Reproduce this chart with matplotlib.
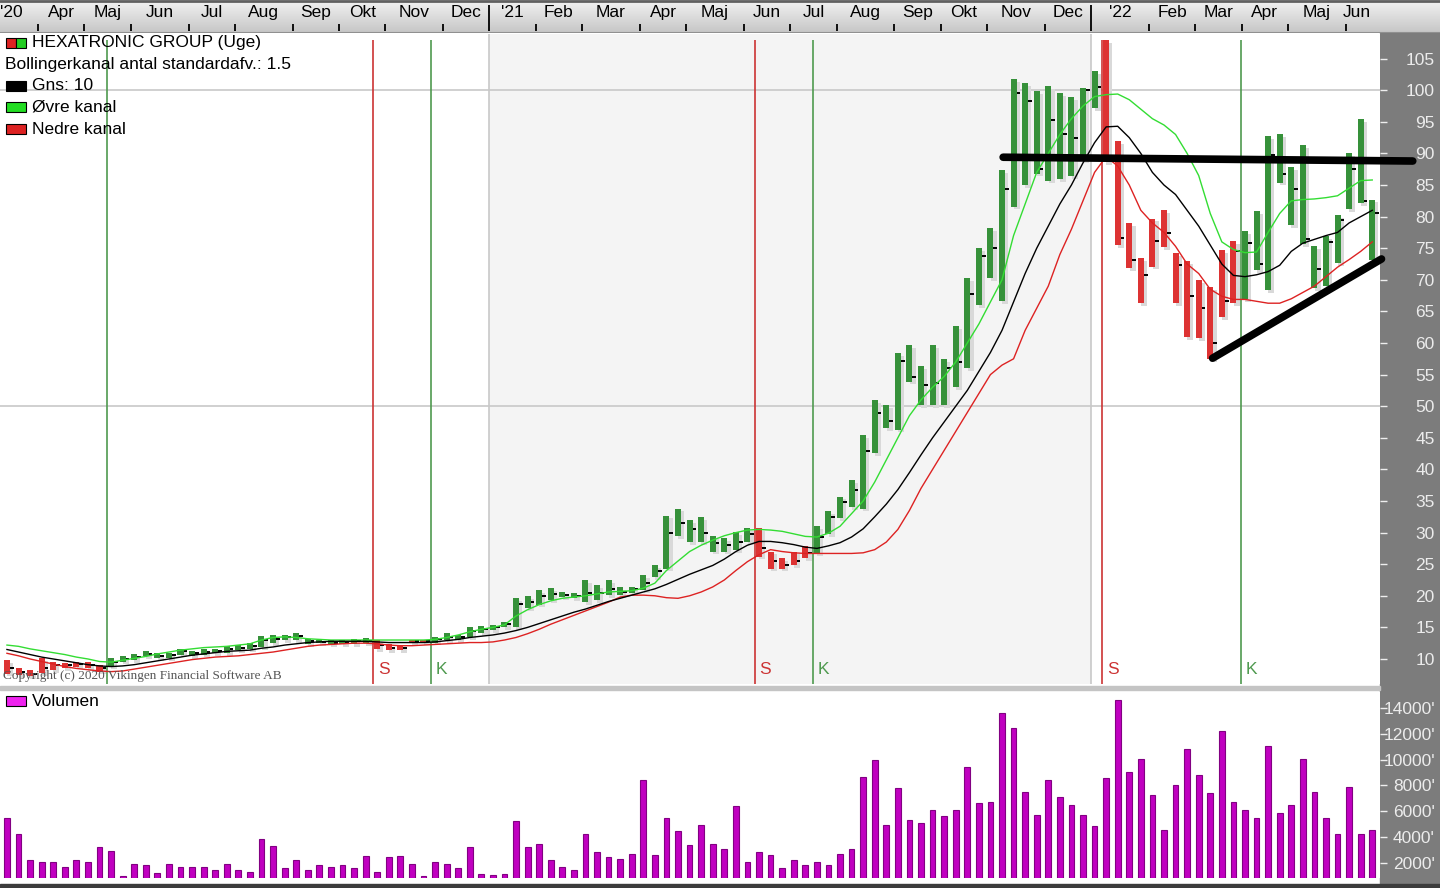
import numpy as np
import pandas as pd
import matplotlib
matplotlib.use("Agg")
import matplotlib.pyplot as plt
from matplotlib.patches import Rectangle

plt.rcParams['font.family'] = ['Liberation Sans', 'DejaVu Sans']

# weekly data, first week starts Monday 16 March 2020
first_week = "2020-03-16"

high = [9.8, 8.5, 8.3, 10.1, 9.6, 9.3, 9.6, 9.6, 9.0, 10.1,
        10.4, 10.8, 11.2, 10.9, 11.0, 11.6, 11.2, 11.5, 11.6, 12.0,
        12.2, 12.5, 13.6, 13.8, 13.8, 14.1, 13.1, 13.0, 13.0, 13.0,
        13.2, 13.3, 13.0, 12.4, 12.2, 13.0, 13.0, 13.5, 14.1, 13.8,
        15.0, 15.2, 15.4, 15.8, 19.6, 19.9, 20.9, 21.2, 20.6, 20.4,
        22.5, 21.7, 22.5, 21.4, 21.4, 23.3, 24.9, 32.7, 33.8, 32.0,
        32.5, 29.4, 29.1, 30.1, 30.7, 30.7, 27.0, 25.9, 27.0, 27.8,
        31.0, 33.4, 35.7, 38.3, 45.4, 51.0, 50.2, 58.4, 59.7, 56.3,
        59.7, 57.4, 62.7, 70.3, 75.0, 78.2, 87.4, 101.7, 101.2, 99.9,
        100.6, 99.6, 98.9, 100.4, 103.0, 108.0, 92.0, 79.0, 73.5, 79.7,
        81.0, 74.2, 72.9, 70.0, 68.9, 74.7, 76.1, 77.7, 80.9, 92.8,
        93.0, 87.9, 91.3, 75.3, 76.9, 80.3, 90.1, 95.4, 82.7]
low = [7.7, 7.5, 7.3, 7.8, 8.3, 8.6, 8.8, 8.6, 8.0, 8.9,
       9.6, 9.8, 10.4, 10.1, 10.1, 10.7, 10.4, 10.7, 10.9, 11.0,
       11.4, 11.6, 11.9, 12.5, 13.0, 13.0, 12.4, 12.5, 12.3, 12.3,
       12.4, 12.5, 11.6, 11.4, 11.4, 12.6, 12.6, 12.6, 13.0, 13.0,
       13.5, 14.1, 14.6, 15.1, 15.1, 18.0, 18.6, 19.3, 19.8, 19.6,
       19.0, 19.3, 20.1, 20.1, 20.4, 20.9, 23.0, 24.3, 29.4, 28.5,
       28.5, 27.0, 27.0, 27.2, 28.5, 26.2, 24.3, 24.3, 24.9, 25.9,
       26.7, 29.7, 32.3, 34.1, 33.8, 42.6, 46.5, 46.3, 53.9, 50.2,
       50.2, 50.2, 53.0, 56.0, 66.0, 70.3, 66.6, 81.6, 85.0, 86.8,
       85.7, 86.0, 86.4, 89.0, 97.2, 88.6, 75.5, 71.9, 66.3, 72.1,
       75.2, 66.3, 61.0, 60.8, 57.5, 64.1, 66.3, 66.9, 71.6, 68.4,
       85.4, 78.7, 75.6, 68.7, 69.0, 72.7, 81.2, 82.2, 73.2]
close = [8.5, 7.9, 7.6, 8.5, 9.0, 9.0, 9.2, 9.0, 8.5, 9.6,
         10.0, 10.3, 10.8, 10.5, 10.6, 11.2, 10.9, 11.1, 11.3, 11.5,
         11.8, 12.0, 13.0, 13.2, 13.5, 13.6, 12.8, 12.7, 12.6, 12.6,
         12.8, 12.9, 12.2, 11.8, 11.7, 12.8, 12.8, 13.1, 13.5, 13.4,
         14.5, 14.8, 15.0, 15.5, 18.7, 19.0, 20.0, 20.3, 20.2, 20.0,
         20.5, 20.4, 21.0, 20.6, 21.0, 22.0, 24.0, 30.0, 31.5, 30.5,
         30.0, 28.3, 28.0, 28.5, 29.8, 27.5, 25.5, 24.8, 25.5, 26.8,
         29.3, 32.5, 34.8, 36.8, 42.9, 48.9, 47.7, 57.1, 54.7, 53.4,
         53.6, 56.0, 57.0, 67.8, 73.7, 75.0, 84.3, 99.6, 98.3, 87.5,
         95.3, 93.0, 92.5, 100.0, 100.5, 89.5, 76.6, 73.2, 70.7, 76.2,
         77.4, 72.3, 67.5, 65.5, 60.0, 66.6, 74.5, 75.8, 72.5, 89.7,
         86.7, 84.4, 76.5, 71.7, 76.0, 79.5, 87.5, 82.5, 80.5]

# Bollinger channel (10 weeks, 1.5 std)
mid = [11.5, 11.1, 10.7, 10.3, 10.0, 9.7, 9.4, 9.1, 8.9, 8.8,
       8.9, 9.1, 9.4, 9.7, 10.0, 10.3, 10.6, 10.8, 11.0, 11.2,
       11.3, 11.4, 11.7, 11.9, 12.2, 12.4, 12.6, 12.7, 12.8, 12.8,
       12.8, 12.8, 12.7, 12.6, 12.6, 12.6, 12.6, 12.7, 12.9, 13.1,
       13.4, 13.6, 13.8, 14.1, 14.5, 15.0, 15.6, 16.2, 16.8, 17.4,
       17.9, 18.5, 19.1, 19.6, 20.1, 20.6, 21.1, 21.8, 22.6, 23.4,
       24.1, 24.8, 25.8, 27.0, 28.0, 28.6, 28.6, 28.4, 28.1, 27.7,
       27.5, 27.9, 28.4, 29.3, 30.6, 32.5, 34.5, 36.8, 39.5, 42.3,
       45.0, 47.5, 50.0, 52.5, 55.5, 58.5, 62.0, 66.5, 71.0, 75.0,
       78.5, 82.0, 85.0, 88.5, 91.7, 94.2, 94.3, 92.5, 90.0, 87.0,
       85.0, 83.5, 81.0, 78.5, 75.5, 72.5, 70.7, 70.5, 70.8, 71.3,
       72.3, 74.5, 75.8, 76.4, 77.0, 77.5, 79.0, 80.0, 81.0]
upper = [12.2, 12.0, 11.6, 11.3, 11.0, 10.7, 10.3, 10.0, 9.6, 9.5,
         9.8, 10.1, 10.4, 10.8, 11.1, 11.4, 11.6, 11.8, 11.9, 12.0,
         12.2, 12.4, 13.0, 13.4, 13.5, 13.4, 13.2, 13.1, 13.0, 13.0,
         13.0, 13.0, 13.0, 13.0, 13.0, 13.0, 13.0, 13.1, 13.4, 13.8,
         14.3, 14.7, 15.0, 15.4, 16.8, 17.8, 18.6, 19.2, 19.6, 19.8,
         20.0, 20.3, 20.6, 20.7, 20.8, 21.2, 22.0, 24.0, 25.5, 27.0,
         28.0, 28.8, 29.5, 30.0, 30.4, 30.5, 30.4, 30.2, 29.8, 29.4,
         29.3, 29.9, 31.0, 33.0, 35.0, 38.0, 41.5, 45.0, 48.5, 51.0,
         53.0, 54.7, 57.0, 60.0, 63.0, 66.5, 70.0, 77.0, 82.0, 87.0,
         90.0, 93.0, 95.5, 97.5, 99.0, 99.3, 99.4, 98.5, 97.0, 95.5,
         94.5, 93.0, 90.0, 86.5, 80.5, 76.0, 74.8, 74.3, 74.4, 77.5,
         80.5, 82.5, 82.7, 82.8, 83.0, 83.3, 84.5, 85.7, 85.8]
lower = [10.9, 10.5, 10.0, 9.6, 9.2, 8.8, 8.5, 8.3, 8.1, 8.0,
         8.1, 8.4, 8.7, 9.0, 9.3, 9.6, 9.9, 10.1, 10.3, 10.4,
         10.5, 10.7, 10.9, 11.1, 11.4, 11.7, 12.0, 12.2, 12.3, 12.4,
         12.5, 12.5, 12.4, 12.2, 12.1, 12.1, 12.2, 12.3, 12.4, 12.5,
         12.6, 12.6, 12.7, 13.0, 13.4, 14.0, 14.7, 15.5, 16.2, 16.9,
         17.6, 18.3, 19.0, 19.8, 20.1, 20.1, 20.0, 19.7, 19.6, 20.0,
         20.6, 21.4, 22.5, 24.0, 25.4, 26.5, 27.3, 27.0, 26.8, 26.7,
         26.7, 26.7, 26.7, 26.7, 26.8, 27.3, 28.5, 30.5, 33.5, 37.0,
         40.0, 43.0, 46.0, 49.0, 52.0, 55.0, 56.5, 57.5, 62.0, 65.5,
         69.0, 74.0, 78.0, 82.5, 87.0, 89.5, 88.0, 85.0, 81.0, 79.0,
         77.5, 75.3, 72.5, 71.0, 68.5, 67.4, 66.9, 66.9, 66.6, 66.3,
         66.3, 67.0, 68.0, 69.0, 70.5, 72.0, 73.2, 74.5, 76.0]

# volume in thousands
volume = [5470, 4200, 2200, 2080, 2080, 1700, 2200, 2080, 3230, 2920,
          980, 1900, 1820, 1180, 1900, 1700, 1700, 1700, 1440, 1900,
          1440, 1310, 3840, 3300, 1570, 2200, 1440, 1820, 1700, 1820,
          1570, 2540, 1310, 2460, 2540, 1950, 980, 2080, 1950, 1570,
          3230, 1130, 1030, 1130, 5220, 3230, 3480, 2200, 1690, 1440,
          4250, 2840, 2460, 2330, 2720, 8410, 2590, 5470, 4450, 3350,
          4960, 3480, 3100, 6370, 2080, 2840, 2590, 1570, 2200, 1820,
          2080, 1820, 2720, 3100, 8660, 9940, 4960, 7770, 5340, 5090,
          6110, 5600, 6110, 9400, 6620, 6750, 13570, 12420, 7510, 5730,
          8380, 7130, 6490, 5730, 4830, 8540, 14590, 9050, 10040, 7260,
          4580, 8000, 10810, 8770, 7390, 12190, 6750, 6110, 5470, 11060,
          5860, 6490, 10040, 7510, 5470, 4200, 7870, 4200, 4580]

buy_weeks = [9, 37, 70, 107]     # K
sell_weeks = [32, 65, 95]        # S
resistance_x = [86.1, 121.5]
resistance_y = [89.4, 88.8]
support_x = [104.2, 118.8]
support_y = [57.6, 73.3]

price_ticks = list(range(10, 106, 5))
vol_ticks = [2000, 4000, 6000, 8000, 10000, 12000, 14000]
month_names = ["Jan", "Feb", "Mar", "Apr", "Maj", "Jun", "Jul",
               "Aug", "Sep", "Okt", "Nov", "Dec"]

W, H = 1440, 888
GREEN = "#36913a"
RED = "#dd3333"
x = np.arange(len(close))
xmin, xmax = -0.6, 118.67
FS = 12.5


def fx(px):
    return px / W


def fy(py):
    return 1 - py / H


fig = plt.figure(figsize=(W / 100, H / 100), dpi=100)
fig.patch.set_facecolor("white")

# right gray scale panel, separators
fig.add_artist(Rectangle((fx(1380), 0), fx(60), fy(33), transform=fig.transFigure,
                         color="#7c7c7c", zorder=-5))
fig.add_artist(Rectangle((0, fy(690)), fx(1380), 3.5 / H, transform=fig.transFigure,
                         color="#c4c4c4", zorder=-5))
fig.add_artist(Rectangle((0, 0), 1, 4 / H, transform=fig.transFigure,
                         color="#3c3c3c", zorder=5))

# ---------- price panel ----------
ax = fig.add_axes([0, fy(684), fx(1380), (684 - 34) / H])
ax.set_xlim(xmin, xmax)
ax.set_ylim(6.04, 108.9)
ax.set_facecolor("white")
for s in ax.spines.values():
    s.set_visible(False)

kk = np.arange(-8, 128)
weeks = pd.Timestamp(first_week) + pd.to_timedelta(7 * kk, unit="D")
new_month = [j for j in range(1, len(weeks)) if weeks[j].month != weeks[j - 1].month]
month_pos = kk[new_month] - 0.3
year_pos = [kk[j] - 0.3 for j in new_month if weeks[j].month == 1]

# 2021 shaded
ax.axvspan(year_pos[0], year_pos[1], color="#f4f4f4", zorder=0, lw=0)
for yp in year_pos:
    if yp < xmax:
        ax.axvline(yp, color="#c8c8c8", lw=1.2, zorder=1)
for g in [50, 100]:
    ax.axhline(g, color="#c8c8c8", lw=1.2, zorder=1)

# signals
for b in buy_weeks:
    ax.vlines(b - 0.35, 6.04, 107.9, color="#4f9a4f", lw=1.2, zorder=2)
    if b != buy_weeks[0]:
        ax.text(b + 0.05, 8.4, "K", color="#4f9a4f", fontsize=FS, va="center", zorder=6)
for s_ in sell_weeks:
    ax.vlines(s_ - 0.35, 6.04, 107.9, color="#cc3333", lw=1.2, zorder=2)
    ax.text(s_ + 0.05, 8.4, "S", color="#cc3333", fontsize=FS, va="center", zorder=6)

# bar colours follow signal state
colors = []
long_pos = False
for i in x:
    if i in buy_weeks:
        long_pos = True
    if i in sell_weeks:
        long_pos = False
    colors.append(GREEN if long_pos else RED)

hi = np.array(high)
lo = np.array(low)
ax.bar(x + 0.28, hi - lo, bottom=lo - 0.45, width=0.52, color="#d9d9d9", zorder=3, lw=0)
ax.bar(x, hi - lo, bottom=lo, width=0.52, color=colors, zorder=4, lw=0)
ax.hlines(close, x + 0.26, x + 0.58, color="black", lw=1.4, zorder=4)

ax.plot(x, upper, color="#33dd33", lw=1.0, zorder=5)
ax.plot(x, lower, color="#dd2222", lw=1.0, zorder=5)
ax.plot(x, mid, color="black", lw=1.0, zorder=5)

ax.plot(resistance_x, resistance_y, color="black", lw=5.5, solid_capstyle="round",
        zorder=7, clip_on=False)
ax.plot(support_x, support_y, color="black", lw=5.5, solid_capstyle="round",
        zorder=7, clip_on=False)

ax.set_xticks([])
ax.yaxis.tick_right()
ax.set_yticks(price_ticks)
ax.set_yticklabels([str(t) for t in price_ticks])
ax.tick_params(axis="y", colors="#eeeeee", length=5, width=1, pad=34.5,
               labelsize=FS, labelcolor="#ececec")
for lab in ax.get_yticklabels():
    lab.set_horizontalalignment("right")

ax.text(0.002, 0.008, "Copyright (c) 2020 Vikingen Financial Software AB",
        transform=ax.transAxes, fontsize=9.5, color="#555555",
        family=["Liberation Serif", "DejaVu Serif"], zorder=8)

# ---------- volume panel ----------
axv = fig.add_axes([0, fy(878), fx(1380), (878 - 692) / H])
axv.set_xlim(xmin, xmax)
axv.set_ylim(828, 15229)
for s in axv.spines.values():
    s.set_visible(False)
axv.bar(x, volume, width=0.5, color="#c000c0", edgecolor="#820082", lw=0.8)
axv.set_xticks([])
axv.yaxis.tick_right()
axv.set_yticks(vol_ticks)
axv.set_yticklabels([f"{v}'" for v in vol_ticks])
axv.tick_params(axis="y", colors="#eeeeee", length=5, width=1, pad=34.5,
                labelsize=FS, labelcolor="#ececec")
for lab in axv.get_yticklabels():
    lab.set_horizontalalignment("right")

# ---------- header with months ----------
axh = fig.add_axes([0, fy(33), 1, 33 / H])
units_per_px = (xmax - xmin) / 1380
hx1 = xmin + W * units_per_px
axh.set_xlim(xmin, hx1)
axh.set_ylim(0, 1)
grad = np.linspace(0, 1, 50).reshape(-1, 1)
axh.imshow(grad, extent=[xmin, hx1, 0, 1], aspect="auto",
           cmap=matplotlib.colors.LinearSegmentedColormap.from_list("g", ["#f2f2f2", "#c6c6c6"]),
           origin="upper", zorder=0)
axh.axhline(0.97, color="#606060", lw=2)
axh.axhline(0.0, color="#909090", lw=1.5)
axh.set_xticks([])
axh.set_yticks([])
for s in axh.spines.values():
    s.set_visible(False)

last_bar = len(close) - 1
for j in range(len(new_month) - 1):
    p0, p1 = month_pos[j], month_pos[j + 1]
    m = weeks[new_month[j]]
    if xmin <= p0 <= last_bar:
        tall = m.month == 1
        axh.vlines(p0, 0.06, 0.85 if tall else 0.27, color="black", lw=1.3)
    if p1 < xmin or p0 > last_bar:
        continue
    if p0 < xmin:
        # first, partly visible month shows the year at the left edge
        axh.text(xmin + 0.02, 0.62, "'" + str(m.year)[2:], ha="left", va="center", fontsize=FS)
        continue
    c = (p0 + min(p1, last_bar - 0.3)) / 2
    lab = "'" + str(m.year)[2:] if m.month == 1 else month_names[m.month - 1]
    axh.text(c, 0.62, lab, ha="center", va="center", fontsize=FS)

# ---------- legend texts ----------
legend_rows = [(43, "HEXATRONIC GROUP (Uge)", None),
               (64, "Bollingerkanal antal standardafv.: 1.5", "none"),
               (86, "Gns: 10", "black"),
               (107, "Øvre kanal", "#22dd22"),
               (129, "Nedre kanal", "#dd2222")]
for yy, txt, col in legend_rows:
    if col is None:
        fig.add_artist(Rectangle((fx(6), fy(yy + 5)), fx(10), 10 / H, transform=fig.transFigure,
                                 facecolor="#dd2222", edgecolor="black", lw=0.8))
        fig.add_artist(Rectangle((fx(16), fy(yy + 5)), fx(10), 10 / H, transform=fig.transFigure,
                                 facecolor="#22cc22", edgecolor="black", lw=0.8))
        fig.text(fx(32), fy(yy), txt, fontsize=FS, va="center")
    elif col == "none":
        fig.text(fx(5), fy(yy), txt, fontsize=FS, va="center")
    else:
        fig.add_artist(Rectangle((fx(6), fy(yy + 5)), fx(20), 10 / H, transform=fig.transFigure,
                                 facecolor=col, edgecolor="black", lw=0.8))
        fig.text(fx(32), fy(yy), txt, fontsize=FS, va="center")

fig.add_artist(Rectangle((fx(6), fy(706)), fx(20), 10 / H, transform=fig.transFigure,
                         facecolor="#ee22ee", edgecolor="black", lw=0.8))
fig.text(fx(32), fy(701), "Volumen", fontsize=FS, va="center")

fig.savefig("out.png", dpi=100, facecolor="white")
